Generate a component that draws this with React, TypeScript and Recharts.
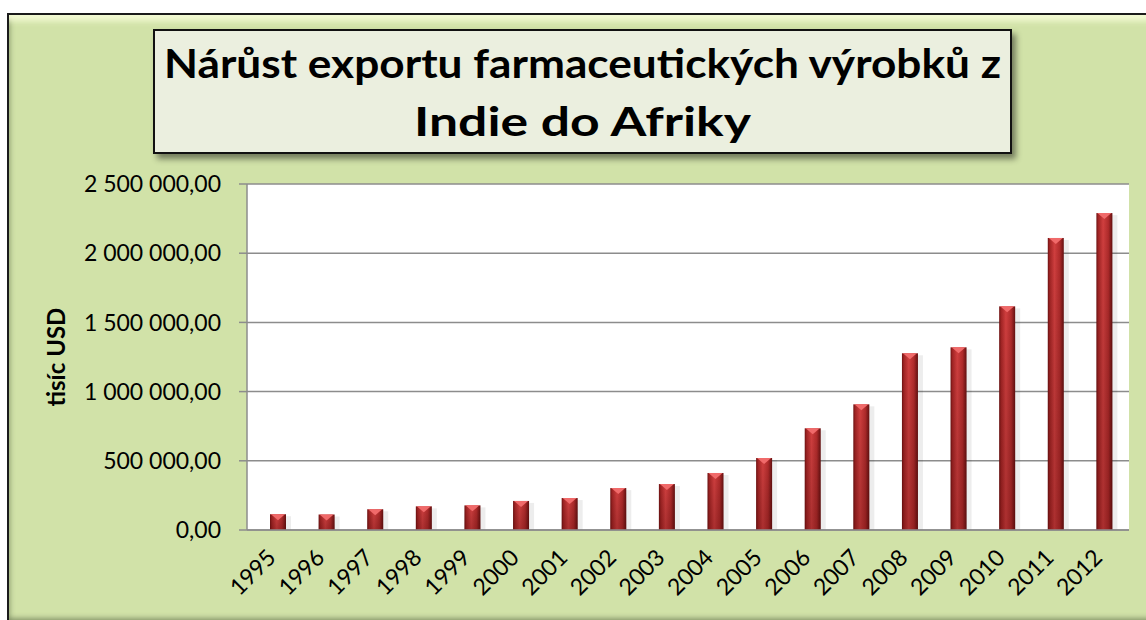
import React from "react";
import { BarChart, Bar, XAxis, YAxis, CartesianGrid } from "recharts";

const years = [
  "1995", "1996", "1997", "1998", "1999", "2000", "2001", "2002", "2003",
  "2004", "2005", "2006", "2007", "2008", "2009", "2010", "2011", "2012",
];

// tisíc USD
const exportValues = [
  114000, 112000, 150000, 171000, 178000, 210000, 231000, 303000, 332000,
  412000, 520000, 735000, 908000, 1277000, 1320000, 1616000, 2110000, 2290000,
];

const yTicks = [0, 500000, 1000000, 1500000, 2000000, 2500000];

const titleLines = ["Nárůst exportu farmaceutických výrobků z", "Indie do Afriky"];

const data = years.map((year, i) => ({ year, value: exportValues[i] }));

const FONT = "Lato, 'Open Sans', sans-serif";

const formatCz = (v: number) => {
  const [int, dec] = v.toFixed(2).split(".");
  return int.replace(/\B(?=(\d{3})+(?!\d))/g, " ") + "," + dec;
};

const BevelBar = (props: any) => {
  const { x, y, width, height, index } = props;
  if (!height || height <= 0) return null;
  const gid = `barGrad${index}`;
  const vid = `barShade${index}`;
  const tri = Math.min(6, height / 2);
  return (
    <g>
      <defs>
        <linearGradient id={gid} x1="0" y1="0" x2="1" y2="0">
          <stop offset="0%" stopColor="#6f1212" />
          <stop offset="12%" stopColor="#a22424" />
          <stop offset="42%" stopColor="#d13f3f" />
          <stop offset="75%" stopColor="#b02b2b" />
          <stop offset="100%" stopColor="#641010" />
        </linearGradient>
        <linearGradient id={vid} x1="0" y1="0" x2="0" y2="1">
          <stop offset="0%" stopColor="#000" stopOpacity={0} />
          <stop offset="100%" stopColor="#3a0000" stopOpacity={0.25} />
        </linearGradient>
      </defs>
      <rect x={x + 2} y={y + 2} width={width + 3} height={height - 2} fill="rgba(0,0,0,0.07)" />
      <rect x={x} y={y} width={width} height={height} fill={`url(#${gid})`} />
      <rect x={x} y={y} width={width} height={height} fill={`url(#${vid})`} />
      <polygon
        points={`${x + 1},${y} ${x + width - 1},${y} ${x + width / 2},${y + tri}`}
        fill="#f06a6a"
      />
    </g>
  );
};

const YearTick = (props: any) => {
  const { x, y, payload } = props;
  const tx = x - 1;
  const ty = y + 29;
  return (
    <text
      x={tx}
      y={ty}
      transform={`rotate(-45, ${tx}, ${ty})`}
      textAnchor="end"
      fontFamily={FONT}
      fontSize={23}
      fill="#000"
    >
      {payload.value}
    </text>
  );
};

const AxisTitle = () => (
  <text
    x={65}
    y={357}
    transform="rotate(-90, 65, 357)"
    textAnchor="middle"
    fontFamily={FONT}
    fontSize={24}
    fontWeight="bold"
    fill="#000"
  >
    tisíc USD
  </text>
);

export default function App() {
  return (
    <div
      style={{
        position: "absolute",
        left: 0,
        top: 0,
        width: 1146,
        height: 620,
        overflow: "hidden",
        background: "#fff",
      }}
    >
      <div
        style={{
          position: "absolute",
          left: 7,
          top: 13,
          width: 1150,
          height: 609,
          boxSizing: "border-box",
          borderLeft: "2px solid #1b1b1b",
          borderTop: "2px solid #1b1b1b",
          background: "#d1e2a8",
          boxShadow:
            "inset 0 12px 6px -6px rgba(246,252,214,0.95), inset 0 -7px 5px -3px rgba(120,135,95,0.8), inset 4px 0 4px -2px rgba(120,135,95,0.5)",
        }}
      />
      <BarChart
        width={1146}
        height={620}
        data={data}
        margin={{ top: 184, right: 17, bottom: 0, left: 0 }}
        style={{ position: "absolute", left: 0, top: 0 }}
      >
        <CartesianGrid
          vertical={false}
          fill="#ffffff"
          stroke="#8c8c8c"
          strokeWidth={1.5}
        />
        <XAxis
          dataKey="year"
          interval={0}
          tickLine={false}
          tickSize={0}
          tickMargin={0}
          axisLine={{ stroke: "#8c8c8c", strokeWidth: 1.5 }}
          padding={{ left: 7, right: 0 }}
          tick={<YearTick />}
          height={90}
        />
        <YAxis
          domain={[0, 2500000]}
          ticks={yTicks}
          interval={0}
          width={247}
          tickSize={8}
          tickMargin={18}
          tickLine={{ stroke: "#8c8c8c", strokeWidth: 1.5 }}
          axisLine={{ stroke: "#8c8c8c", strokeWidth: 1.5 }}
          tickFormatter={formatCz}
          tick={{ fill: "#000", fontSize: 23, fontFamily: FONT }}
          label={{ content: () => <AxisTitle /> }}
        />
        <Bar
          dataKey="value"
          barSize={16}
          shape={<BevelBar />}
          isAnimationActive={false}
        />
      </BarChart>
      <div
        style={{
          position: "absolute",
          left: 153,
          top: 29,
          width: 859,
          height: 125,
          boxSizing: "border-box",
          border: "2px solid #111",
          background: "#ebefdf",
          boxShadow: "4px 5px 6px rgba(0,0,0,0.45)",
        }}
      >
        <svg width={855} height={121} style={{ display: "block" }}>
          <text
            x={427.5}
            y={47}
            textAnchor="middle"
            fontFamily={FONT}
            fontWeight="bold"
            fontSize={41}
            textLength={837}
            lengthAdjust="spacingAndGlyphs"
            fill="#000"
          >
            {titleLines[0]}
          </text>
          <text
            x={427.5}
            y={105}
            textAnchor="middle"
            fontFamily={FONT}
            fontWeight="bold"
            fontSize={41}
            textLength={337}
            lengthAdjust="spacingAndGlyphs"
            fill="#000"
          >
            {titleLines[1]}
          </text>
        </svg>
      </div>
    </div>
  );
}
